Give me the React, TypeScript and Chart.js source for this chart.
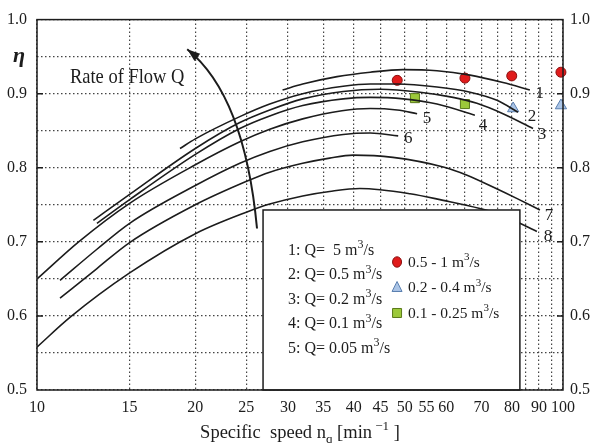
import React, { useEffect, useRef } from 'react';
import { Chart, registerables } from 'chart.js';

Chart.register(...registerables);

// ---------- data ----------
const X_GRID = [10, 15, 20, 25, 30, 35, 40, 45, 50, 55, 60, 65, 70, 75, 80, 85, 90, 95, 100];
const X_LABELS = [10, 15, 20, 25, 30, 35, 40, 45, 50, 55, 60, 70, 80, 90, 100];

const CURVE_1 = [[29.3, 0.905], [32, 0.913], [37.2, 0.923], [43, 0.929], [49.6, 0.9325], [57.6, 0.931], [66.6, 0.925], [76.9, 0.915], [86.5, 0.905]];
const CURVE_2 = [[18.7, 0.826], [20, 0.839], [24.3, 0.869], [27.7, 0.886], [32, 0.900], [38.2, 0.910], [43, 0.913], [48.4, 0.913], [57.6, 0.909], [66.6, 0.902], [74.9, 0.891], [82.1, 0.875]];
const CURVE_3 = [[12.8, 0.729], [15, 0.764], [20, 0.826], [24.3, 0.861], [27.7, 0.878], [32, 0.893], [38.2, 0.903], [44.9, 0.906], [53.5, 0.902], [61.8, 0.895], [68.6, 0.887], [76.9, 0.873], [87.7, 0.853]];
const CURVE_4 = [[13.0, 0.725], [15, 0.757], [20, 0.818], [24.3, 0.853], [27.7, 0.870], [32, 0.884], [38.2, 0.893], [43, 0.895], [49.7, 0.893], [57.6, 0.886], [68.0, 0.871]];
const CURVE_5 = [[10.04, 0.651], [12, 0.700], [15, 0.752], [20, 0.804], [24.3, 0.835], [27.7, 0.852], [32, 0.866], [38, 0.877], [43, 0.880], [48.4, 0.878], [52.8, 0.873]];
const CURVE_6 = [[11.06, 0.648], [13, 0.690], [15, 0.725], [20, 0.776], [24.3, 0.806], [27.7, 0.822], [32, 0.835], [38.2, 0.845], [43, 0.847], [48.6, 0.843]];
const CURVE_7 = [[11.06, 0.624], [13, 0.664], [15, 0.699], [20, 0.750], [24.9, 0.781], [27.7, 0.794], [32, 0.806], [36, 0.813], [39.9, 0.817], [47.5, 0.814], [59.2, 0.801], [65.7, 0.790], [73.6, 0.774], [82, 0.758], [90.4, 0.743]];
const CURVE_8 = [[10, 0.558], [11.55, 0.598], [15, 0.658], [20, 0.711], [25, 0.740], [27.7, 0.751], [32, 0.762], [36, 0.768], [41.1, 0.772], [51.2, 0.765], [59.2, 0.756], [69.5, 0.745], [76, 0.737], [82.8, 0.725], [89.2, 0.714]];
const CURVE_NAMES = ['1', '2', '3', '4', '5', '6', '7', '8'];

const RED_X = [48.4, 65.1, 79.9, 99.1];
const RED_Y = [0.918, 0.921, 0.924, 0.929];
const BLUE_X = [80.4, 99.1];
const BLUE_Y = [0.880, 0.884];
const GREEN_X = [52.3, 65.1];
const GREEN_Y = [0.894, 0.886];

const LEGEND_Q = ['1: Q=  5', '2: Q= 0.5', '3: Q= 0.2', '4: Q= 0.1', '5: Q= 0.05'];
const LEGEND_RANGES = ['0.5 - 1', '0.2 - 0.4', '0.1 - 0.25'];

// ---------- annotation placement (data coordinates) ----------
const BOX = { x0: 26.9, x1: 82.8, y0: 0.5, y1: 0.743 };
const ARROW = { sx: 26.2, sy: 0.718, cx: 24.8, cy: 0.898, ex: 19.3, ey: 0.960 };
const FLOW_TEXT = { x: 11.55, y: 0.914 };
const LABEL_OFFSETS = [[10, 4], [14, 4], [9, 6], [8, 10], [10, 5], [10, 3], [9, 6], [11, 5]];

const SERIF = '"Liberation Serif", "Times New Roman", serif';
const INK = '#1c1c1c';

type Part = [string, string?];

function drawRich(ctx: CanvasRenderingContext2D, parts: Part[], x: number, y: number, size: number, align: 'left' | 'center') {
  const fontFor = (k?: string) => `${k ? Math.round(size * 0.72) : size}px ${SERIF}`;
  const widths = parts.map(([t, k]) => { ctx.font = fontFor(k); return ctx.measureText(t).width; });
  const total = widths.reduce((a, b) => a + b, 0);
  let cx = align === 'center' ? x - total / 2 : x;
  ctx.textAlign = 'left';
  ctx.textBaseline = 'alphabetic';
  parts.forEach(([t, k], i) => {
    ctx.font = fontFor(k);
    const dy = k === 'sup' ? -size * 0.42 : k === 'sub' ? size * 0.28 : 0;
    ctx.fillText(t, cx, y + dy);
    cx += widths[i];
  });
}

const overlay = {
  id: 'overlay',
  afterDraw(chart: any) {
    const ctx: CanvasRenderingContext2D = chart.ctx;
    const xs = chart.scales.x;
    const ys = chart.scales.y;
    const px = (v: number) => xs.getPixelForValue(v);
    const py = (v: number) => ys.getPixelForValue(v);
    const area = chart.chartArea;
    ctx.save();
    ctx.fillStyle = INK;
    ctx.strokeStyle = INK;

    // curve number labels
    ctx.font = `17px ${SERIF}`;
    ctx.textAlign = 'center';
    ctx.textBaseline = 'middle';
    const curves = [CURVE_1, CURVE_2, CURVE_3, CURVE_4, CURVE_5, CURVE_6, CURVE_7, CURVE_8];
    curves.forEach((c, i) => {
      const [lx, ly] = c[c.length - 1];
      ctx.fillText(CURVE_NAMES[i], px(lx) + LABEL_OFFSETS[i][0], py(ly) + LABEL_OFFSETS[i][1]);
    });

    // legend box
    const bl = px(BOX.x0), br = px(BOX.x1), bt = py(BOX.y1), bb = py(BOX.y0);
    ctx.fillStyle = '#ffffff';
    ctx.fillRect(bl, bt, br - bl, bb - bt);
    ctx.lineWidth = 1.5;
    ctx.strokeRect(bl, bt, br - bl, bb - bt);
    ctx.fillStyle = INK;
    LEGEND_Q.forEach((t, i) => {
      drawRich(ctx, [[t + ' m'], ['3', 'sup'], ['/s']], bl + 25, bt + 45 + i * 24.5, 16, 'left');
    });
    const markStyles = [
      { fill: '#e01b1b', stroke: '#8a1010', shape: 'circle' },
      { fill: '#aac4e6', stroke: '#5a7fb0', shape: 'triangle' },
      { fill: '#9cc93a', stroke: '#5a7a1a', shape: 'rect' },
    ];
    LEGEND_RANGES.forEach((t, i) => {
      const my = bt + 52 + i * 25.5;
      const mx = bl + 134;
      const s = markStyles[i];
      ctx.beginPath();
      if (s.shape === 'circle') ctx.ellipse(mx, my, 4.5, 5.2, 0, 0, Math.PI * 2);
      else if (s.shape === 'triangle') { ctx.moveTo(mx, my - 6); ctx.lineTo(mx + 5, my + 4); ctx.lineTo(mx - 5, my + 4); ctx.closePath(); }
      else ctx.rect(mx - 4.5, my - 4.5, 9, 9);
      ctx.fillStyle = s.fill; ctx.fill();
      ctx.lineWidth = 1; ctx.strokeStyle = s.stroke; ctx.stroke();
      ctx.fillStyle = INK;
      drawRich(ctx, [[t + ' m'], ['3', 'sup'], ['/s']], mx + 11, my + 5, 15.5, 'left');
    });
    ctx.strokeStyle = INK;

    // arrow
    const sx = px(ARROW.sx), sy = py(ARROW.sy), cx = px(ARROW.cx), cy = py(ARROW.cy), ex = px(ARROW.ex), ey = py(ARROW.ey);
    ctx.lineWidth = 2;
    ctx.beginPath();
    ctx.moveTo(sx, sy);
    ctx.quadraticCurveTo(cx, cy, ex, ey);
    ctx.stroke();
    const ang = Math.atan2(ey - cy, ex - cx);
    const L = 13, W = 4.5;
    ctx.beginPath();
    ctx.moveTo(ex, ey);
    ctx.lineTo(ex - L * Math.cos(ang) + W * Math.sin(ang), ey - L * Math.sin(ang) - W * Math.cos(ang));
    ctx.lineTo(ex - L * Math.cos(ang) - W * Math.sin(ang), ey - L * Math.sin(ang) + W * Math.cos(ang));
    ctx.closePath();
    ctx.fillStyle = INK;
    ctx.fill();

    // "Rate of Flow Q"
    ctx.save();
    ctx.font = `21px ${SERIF}`;
    ctx.textAlign = 'left';
    ctx.textBaseline = 'alphabetic';
    ctx.translate(px(FLOW_TEXT.x), py(FLOW_TEXT.y));
    ctx.scale(0.88, 1);
    ctx.fillText('Rate of Flow Q', 0, 0);
    ctx.restore();

    // eta
    ctx.font = `bold italic 22px ${SERIF}`;
    ctx.textAlign = 'center';
    ctx.textBaseline = 'middle';
    ctx.fillText('η', area.left - 18, py(0.95));

    // inner tick marks at 0.1 steps
    ctx.lineWidth = 1.5;
    for (let v = 0.6; v < 0.999; v += 0.1) {
      const y = py(v);
      ctx.beginPath();
      ctx.moveTo(area.left, y); ctx.lineTo(area.left + 6, y);
      ctx.moveTo(area.right - 6, y); ctx.lineTo(area.right, y);
      ctx.stroke();
    }

    // frame
    ctx.lineWidth = 1.5;
    ctx.strokeRect(area.left, area.top, area.right - area.left, area.bottom - area.top);

    // x title
    ctx.fillStyle = INK;
    drawRich(ctx, [['Specific  speed n'], ['q', 'sub'], [' [min'], [' \u22121', 'sup'], [' ]']], (area.left + area.right) / 2, area.bottom + 48, 18.5, 'center');
    ctx.restore();
  },
};

const isTenth = (v: number) => Math.abs(v * 10 - Math.round(v * 10)) < 1e-6;

export default function App() {
  const ref = useRef<HTMLCanvasElement | null>(null);
  useEffect(() => {
    document.body.style.margin = '0';
    const canvas = ref.current;
    if (!canvas) return;
    const curves = [CURVE_1, CURVE_2, CURVE_3, CURVE_4, CURVE_5, CURVE_6, CURVE_7, CURVE_8];
    const lineSets = curves.map((c, i) => ({
      label: 'Curve ' + CURVE_NAMES[i],
      data: c.map(([x, y]) => ({ x, y })),
      borderColor: INK,
      borderWidth: 1.6,
      pointRadius: 0,
      cubicInterpolationMode: 'monotone',
      fill: false,
    }));
    const pointSet = (label: string, xsArr: number[], ysArr: number[], style: string, r: number, bg: string, bd: string) => ({
      label,
      data: xsArr.map((x, i) => ({ x, y: ysArr[i] })),
      showLine: false,
      pointStyle: style,
      pointRadius: r,
      backgroundColor: bg,
      borderColor: bd,
      pointBackgroundColor: bg,
      pointBorderColor: bd,
      pointBorderWidth: 1,
      clip: false,
    });
    const tickFont = { family: SERIF, size: 16 };
    const yCommon = {
      type: 'linear' as const,
      min: 0.5,
      max: 1.0,
      ticks: {
        stepSize: 0.05,
        color: INK,
        font: tickFont,
        callback: (v: any) => (isTenth(Number(v)) ? Number(v).toFixed(1) : ''),
      },
    };
    const chart = new Chart(canvas, {
      type: 'line',
      data: {
        datasets: [
          ...lineSets,
          pointSet('0.5 - 1 m³/s', RED_X, RED_Y, 'circle', 5, '#e01b1b', '#8a1010'),
          pointSet('0.2 - 0.4 m³/s', BLUE_X, BLUE_Y, 'triangle', 6.5, '#aac4e6', '#5a7fb0'),
          pointSet('0.1 - 0.25 m³/s', GREEN_X, GREEN_Y, 'rect', 6.4, '#9cc93a', '#5a7a1a'),
        ] as any,
      },
      options: {
        responsive: false,
        animation: false,
        devicePixelRatio: 1,
        layout: { padding: { top: 19, left: 0, right: 0, bottom: 0 } },
        plugins: { legend: { display: false }, tooltip: { enabled: false } },
        scales: {
          x: {
            type: 'logarithmic',
            min: 10,
            max: 100,
            afterBuildTicks: (s: any) => { s.ticks = X_GRID.map((v) => ({ value: v })); },
            afterFit: (s: any) => { s.height = 53; },
            ticks: {
              autoSkip: false,
              maxRotation: 0,
              color: INK,
              font: tickFont,
              padding: 8,
              callback: (v: any) => (X_LABELS.includes(Number(v)) ? String(v) : ''),
            },
            grid: { color: '#444', lineWidth: 1.2, drawTicks: false },
            border: { display: false, dash: [1.5, 2.5] },
          },
          y: {
            ...yCommon,
            position: 'left',
            afterFit: (s: any) => { s.width = 37; },
            ticks: { ...yCommon.ticks, padding: 10 },
            grid: { color: '#444', lineWidth: 1.2, drawTicks: false },
            border: { display: false, dash: [1.5, 2.5] },
          },
          y2: {
            ...yCommon,
            position: 'right',
            afterFit: (s: any) => { s.width = 28; },
            ticks: { ...yCommon.ticks, padding: 7 },
            grid: { display: false, drawTicks: false },
            border: { display: false },
          },
        },
      } as any,
      plugins: [overlay],
    });
    return () => chart.destroy();
  }, []);
  return <canvas ref={ref} width={591} height={443} style={{ display: 'block' }} />;
}
